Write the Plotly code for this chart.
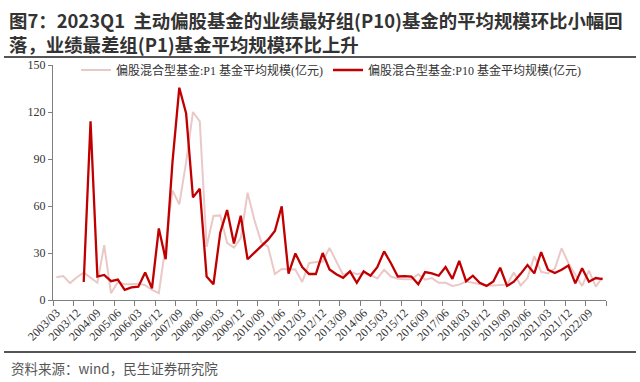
import plotly.graph_objects as go

# ---- data ----
quarters = [f"{y}/{m:02d}" for y in range(2003, 2024) for m in (3, 6, 9, 12)][:81]

p1_avg = [14.5, 15.3, 10.8, 14.5, 17.5, 14.5, 11.0, 35.0, 4.3, 11.5,
          10.0, 10.0, 10.3, 9.5, 6.4, 4.3, 35.0, 70.0, 61.0, 88.0,
          120.0, 114.0, 34.0, 53.6, 54.0, 36.5, 33.5, 39.5, 68.5, 51.0,
          37.0, 34.0, 16.5, 19.8, 19.8, 19.5, 11.5, 23.5, 24.3, 24.5,
          33.3, 25.0, 16.0, 18.0, 16.5, 17.2, 16.0, 13.8, 19.3, 15.0,
          13.6, 13.2, 13.3, 16.4, 13.0, 14.0, 11.0, 11.0, 9.0, 9.8,
          11.8, 11.0, 10.3, 9.3, 9.3, 9.6, 9.8, 17.5, 9.3, 14.0,
          28.0, 18.0, 17.0, 20.0, 33.0, 23.5, 16.5, 9.0, 18.7, 8.5,
          14.5]

p10_avg = [None, None, None, None, 11.5, 114.0, 15.0, 16.0, 12.0, 13.0,
           6.5, 8.0, 8.5, 17.5, 7.5, 45.7, 26.0, 88.0, 135.5, 119.0,
           65.5, 71.0, 15.0, 10.0, 43.0, 57.4, 36.0, 53.8, 26.0, 30.0,
           34.0, 38.5, 44.0, 59.8, 16.8, 29.7, 21.0, 16.6, 16.6, 30.0,
           19.5, 16.4, 14.2, 18.3, 11.0, 18.3, 15.5, 21.0, 31.0, 23.5,
           15.0, 15.3, 15.0, 10.0, 17.8, 17.0, 15.5, 21.0, 13.5, 25.0,
           12.0, 15.5, 11.0, 9.0, 11.8, 20.6, 9.0, 11.7, 16.7, 22.3,
           17.0, 30.6, 19.3, 17.2, 19.3, 22.0, 10.6, 20.3, 11.7, 14.0,
           13.3]

label_step = 3
y_ticks = [0, 30, 60, 90, 120, 150]

name_p1 = "偏股混合型基金:P1 基金平均规模(亿元)"
name_p10 = "偏股混合型基金:P10 基金平均规模(亿元)"
title_text = ("图7：2023Q1  主动偏股基金的业绩最好组(P10)基金的平均规模环比小幅回"
              "<br>落，业绩最差组(P1)基金平均规模环比上升")
source = "资料来源：wind，民生证券研究院"

# ---- figure ----
xs = list(range(len(quarters)))
tickvals = xs[::label_step]
ticktext = [quarters[i] for i in tickvals]

serif = "Liberation Serif, Noto Sans CJK SC, serif"
cjk = "Noto Sans CJK SC, sans-serif"

fig = go.Figure()
fig.add_trace(go.Scatter(x=xs, y=p1_avg, mode="lines", name=name_p1,
                         line=dict(color="#EBC8C8", width=2)))
fig.add_trace(go.Scatter(x=xs, y=p10_avg, mode="lines", name=name_p10,
                         line=dict(color="#C00000", width=2.3)))

W, H = 640, 382
L, R, T, B = 53, 34, 65, 82
pw, ph = W - L - R, H - T - B

def px(x):
    return (x - L) / pw

def py(y):
    return (H - B - y) / ph

fig.update_layout(
    width=W, height=H,
    margin=dict(l=L, r=R, t=T, b=B),
    paper_bgcolor="white", plot_bgcolor="white",
    showlegend=True,
    legend=dict(orientation="h", x=px(76), y=py(70), xanchor="left", yanchor="middle",
                font=dict(family=serif, size=12, color="#333333"),
                bgcolor="rgba(0,0,0,0)", itemwidth=30, tracegroupgap=0),
    xaxis=dict(range=[-0.5, len(quarters) - 0.5], tickmode="array",
               tickvals=tickvals, ticktext=ticktext, tickangle=-45,
               ticks="", showgrid=False, zeroline=False,
               showline=True, linecolor="#7f7f7f", linewidth=1,
               tickfont=dict(family=serif, size=12, color="#333333"),
               minor=dict(ticks="outside", ticklen=5, tickcolor="#7f7f7f",
                          tickmode="linear", tick0=-0.5, dtick=label_step,
                          showgrid=False)),
    yaxis=dict(range=[0, 150], tickmode="array", tickvals=y_ticks,
               ticks="outside", ticklen=4, tickcolor="#7f7f7f",
               showgrid=False, zeroline=False,
               showline=True, linecolor="#7f7f7f", linewidth=1,
               tickfont=dict(family=serif, size=12, color="#333333")),
)

fig.add_annotation(text=title_text, xref="paper", yref="paper", x=px(7), y=py(32),
                   xanchor="left", yanchor="middle", align="left", showarrow=False,
                   font=dict(family=cjk, size=18.4, color="#333333", weight="bold"))
fig.add_annotation(text=source, xref="paper", yref="paper", x=px(9), y=py(368),
                   xanchor="left", yanchor="middle", showarrow=False,
                   font=dict(family=cjk, size=13.5, color="#555555"))

fig.add_shape(type="line", xref="paper", yref="paper", x0=px(4), x1=px(636),
              y0=py(57), y1=py(57), line=dict(color="#555555", width=2))
fig.add_shape(type="line", xref="paper", yref="paper", x0=px(4), x1=px(636),
              y0=py(352), y1=py(352), line=dict(color="#555555", width=2))

fig.write_html("out.html", config={"displayModeBar": False},
               post_script="document.body.style.margin='0';document.body.style.overflow='hidden';")
